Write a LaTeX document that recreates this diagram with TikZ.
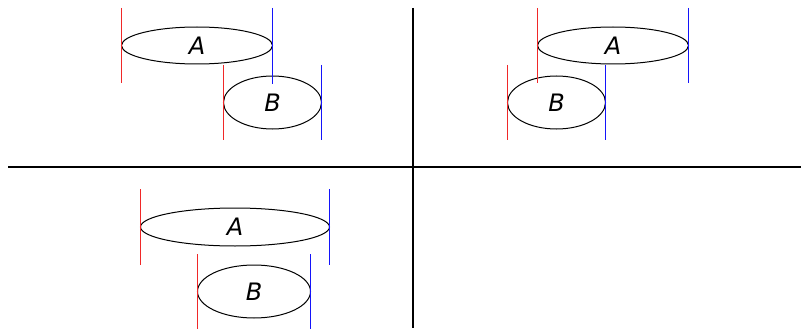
\documentclass[tikz,border=0pt]{standalone}
\usepackage{fontspec}
\setsansfont{DejaVu Sans}
\usetikzlibrary{shapes.geometric}
\definecolor{lored}{RGB}{240,40,40}
\definecolor{hiblue}{RGB}{20,20,250}
\begin{document}
\begin{tikzpicture}[x=1pt,y=-1pt,
  set/.style={draw=black,line width=1pt,ellipse,inner sep=0pt,outer sep=0pt,
    font=\sffamily\itshape\fontsize{24}{24}\selectfont},
  lo/.style={color=lored,line width=1.4pt},
  hi/.style={color=hiblue,line width=1.4pt},
  axis/.style={color=black,line width=2pt}]
\useasboundingbox (0,0) rectangle (801,329);
% axes
\coordinate (hl) at (8,166.5);
\coordinate (hr) at (801,166.5);
\coordinate (vt) at (412.5,8);
\coordinate (vb) at (412.5,328);
\draw[axis] (hl) -- (hr);
\draw[axis] (vt) -- (vb);
% panel 1
\node[set,minimum width=151pt,minimum height=37pt] (A1) at (197,45.5) {A};
\node[set,minimum width=98pt,minimum height=53pt] (B1) at (272.5,102.5) {B};
\draw[lo] (121.5,8) -- (121.5,83);
\draw[hi] (272.5,8) -- (272.5,84);
\draw[lo] (223.5,65) -- (223.5,140);
\draw[hi] (321.5,65) -- (321.5,140);
% panel 2
\node[set,minimum width=151pt,minimum height=37pt] (A2) at (613,45.5) {A};
\node[set,minimum width=98pt,minimum height=53pt] (B2) at (556.5,102.5) {B};
\draw[lo] (537.5,8) -- (537.5,83);
\draw[hi] (688.5,8) -- (688.5,83);
\draw[lo] (507.5,65) -- (507.5,140);
\draw[hi] (605.5,65) -- (605.5,140);
% panel 3
\node[set,minimum width=189pt,minimum height=38pt] (A3) at (235,227) {A};
\node[set,minimum width=113pt,minimum height=53pt] (B3) at (254,291.5) {B};
\draw[lo] (140.5,189) -- (140.5,265);
\draw[hi] (329.5,189) -- (329.5,265);
\draw[lo] (197.5,254) -- (197.5,329);
\draw[hi] (310.5,254) -- (310.5,329);
\end{tikzpicture}
\end{document}
